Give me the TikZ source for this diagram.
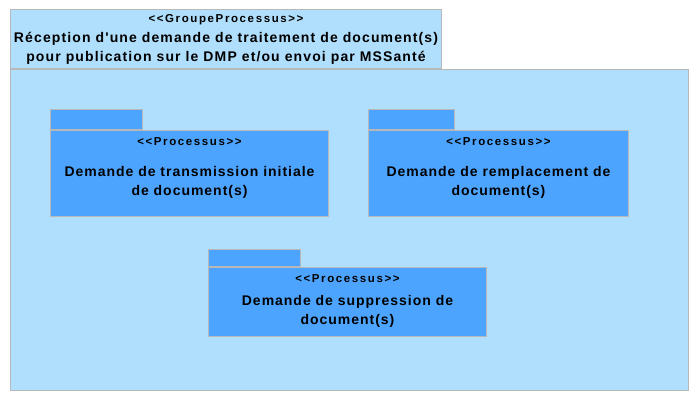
\documentclass[tikz,border=0pt]{standalone}
\usepackage{fontspec}
\setmainfont{Liberation Sans}[Ligatures=TeXOff]
\newfontfamily\namefont{Liberation Sans}[Ligatures=TeXOff, LetterSpace=7]
\newfontfamily\titlefont{Liberation Sans}[Ligatures=TeXOff, LetterSpace=8]
\newfontfamily\stereofont{Liberation Sans}[Ligatures=TeXOff, LetterSpace=14]
\usepackage{xcolor}
\usetikzlibrary{positioning}

\definecolor{grpfill}{RGB}{176,222,253}
\definecolor{pkgfill}{RGB}{76,164,255}
\definecolor{pkgline}{RGB}{184,184,184}

\begin{document}
\begin{tikzpicture}[
    x=1pt, y=-1pt,
    grpbox/.style={rectangle, draw=pkgline, fill=grpfill, line width=1pt, inner sep=0pt, anchor=north west},
    pkgbox/.style={rectangle, draw=pkgline, fill=pkgfill, line width=1pt, inner sep=0pt, anchor=north west},
    stereo/.style={font=\stereofont\bfseries\fontsize{11.5}{13}\selectfont, inner sep=0pt},
    pkgname/.style={font=\namefont\bfseries\fontsize{14}{19}\selectfont, align=center, inner sep=0pt}
]
\useasboundingbox (0,0) rectangle (699,401);

% Group package
\node[grpbox, minimum width=678pt, minimum height=321pt] (grpbody) at (10,69) {};
\node[grpbox, minimum width=431pt, minimum height=59pt, anchor=south west] (grptab) at (grpbody.north west) {};
\node[stereo, below=5pt of grptab.north] (grpstereo) {<<GroupeProcessus>>};
\node[pkgname, font=\titlefont\bfseries\fontsize{14}{19}\selectfont, below=7pt of grpstereo] (grpname) {Réception d'une demande de traitement de document(s)\\pour publication sur le DMP et/ou envoi par MSSanté};

% Processus: transmission initiale
\node[pkgbox, minimum width=278pt, minimum height=86pt] (initbody) at (50,130) {};
\node[pkgbox, minimum width=92pt, minimum height=20pt, anchor=south west] (inittab) at (initbody.north west) {};
\node[stereo, below=7pt of initbody.north] (initstereo) {<<Processus>>};
\node[pkgname, below=21pt of initstereo] (initname) {Demande de transmission initiale\\de document(s)};

% Processus: remplacement
\node[pkgbox, minimum width=260pt, minimum height=86pt] (replbody) at (368,130) {};
\node[pkgbox, minimum width=86pt, minimum height=20pt, anchor=south west] (repltab) at (replbody.north west) {};
\node[stereo, below=7pt of replbody.north] (replstereo) {<<Processus>>};
\node[pkgname, below=21pt of replstereo] (replname) {Demande de remplacement de\\document(s)};

% Processus: suppression
\node[pkgbox, minimum width=278pt, minimum height=69pt] (suppbody) at (208,267) {};
\node[pkgbox, minimum width=92pt, minimum height=17pt, anchor=south west] (supptab) at (suppbody.north west) {};
\node[stereo, below=7pt of suppbody.north] (suppstereo) {<<Processus>>};
\node[pkgname, below=13pt of suppstereo] (suppname) {Demande de suppression de\\document(s)};

\end{tikzpicture}
\end{document}
